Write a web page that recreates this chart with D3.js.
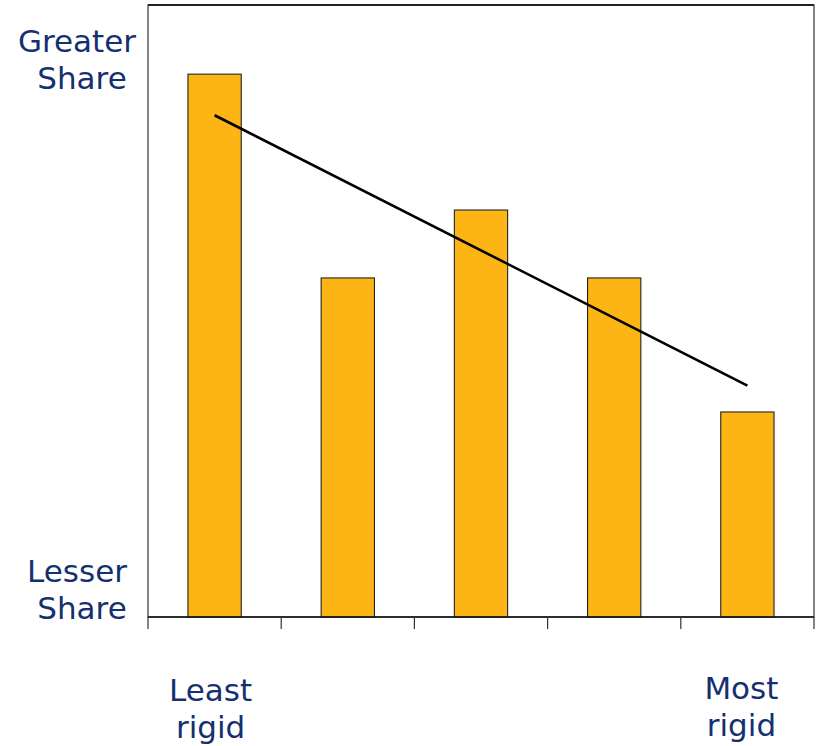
<!DOCTYPE html>
<html>
<head>
<meta charset="utf-8">
<script src="https://cdn.jsdelivr.net/npm/d3@7"></script>
<style>
  body { margin: 0; background: #fff; }
  text { font-family: "DejaVu Sans", Verdana, sans-serif; fill: #15306f; }
</style>
</head>
<body>
<script>
const width = 817,
      height = 746;

const margin = { top: 5, right: 3, bottom: 129, left: 148 };

// rigidity groups, least to most
const categories = ["g1", "g2", "g3", "g4", "g5"];
const shares = [88.7, 55.4, 66.5, 55.4, 33.5];
const yLabelsTop = ["Greater", "Share"];
const yLabelsBottom = ["Lesser", "Share"];
const xLabelsLeft = ["Least", "rigid"];
const xLabelsRight = ["Most", "rigid"];

const x = d3.scaleBand()
      .domain(categories)
      .range([margin.left, width - margin.right])
      .paddingInner(0.6)
      .paddingOuter(0.3);

const y = d3.scaleLinear()
      .domain([0, 100])
      .range([height - margin.bottom, margin.top]);

const svg = d3.select("body")
  .append("svg")
  .attr("width", width)
  .attr("height", height);

// plot frame
svg.append("rect")
  .attr("x", margin.left)
  .attr("y", margin.top)
  .attr("width", width - margin.left - margin.right)
  .attr("height", height - margin.top - margin.bottom)
  .style("fill", "none")
  .style("stroke", "#333")
  .style("stroke-width", 1.2);

svg.append("line")
  .attr("x1", margin.left)
  .attr("x2", width - margin.right)
  .attr("y1", margin.top)
  .attr("y2", margin.top)
  .style("stroke", "#222")
  .style("stroke-width", 2);

// bars
svg.append("g")
  .selectAll("rect")
  .data(shares)
  .join("rect")
  .attr("x", (d, i) => x(categories[i]))
  .attr("y", (d) => y(d))
  .attr("width", x.bandwidth())
  .attr("height", (d) => y(0) - y(d))
  .style("fill", "#fdb515")
  .style("stroke", "#222")
  .style("stroke-width", 1.1);

// x axis line + ticks between the groups
const tickPos = d3.range(categories.length + 1)
  .map((i) => margin.left + i * (width - margin.left - margin.right) / categories.length);

svg.append("line")
  .attr("x1", margin.left)
  .attr("x2", width - margin.right)
  .attr("y1", y(0))
  .attr("y2", y(0))
  .style("stroke", "#111")
  .style("stroke-width", 1.5);

svg.append("g")
  .selectAll("line")
  .data(tickPos)
  .join("line")
  .attr("x1", (d) => d)
  .attr("x2", (d) => d)
  .attr("y1", y(0))
  .attr("y2", y(0) + 12)
  .style("stroke", "#333")
  .style("stroke-width", 1.2);

// linear trend line (least squares over the bar values)
const xs = d3.range(shares.length);
const mx = d3.mean(xs), my = d3.mean(shares);
const slope = d3.sum(xs, (i) => (i - mx) * (shares[i] - my)) / d3.sum(xs, (i) => (i - mx) * (i - mx));
const icept = my - slope * mx;
const center = (i) => x(categories[i]) + x.bandwidth() / 2;

svg.append("path")
  .datum([0, shares.length - 1])
  .attr("d", d3.line()
    .x((i) => center(i))
    .y((i) => y(icept + slope * i)))
  .style("fill", "none")
  .style("stroke", "#000")
  .style("stroke-width", 2.6);

// labels
function block(lines, cx, baseline, offsets) {
  svg.append("text")
    .attr("text-anchor", "middle")
    .style("font-size", "31px")
    .selectAll("tspan")
    .data(lines)
    .join("tspan")
    .attr("x", (d, i) => cx + offsets[i])
    .attr("y", (d, i) => baseline + i * 37)
    .text((d) => d);
}

block(yLabelsTop, 77, 52, [0, 5]);
block(yLabelsBottom, 77, 582, [0, 5]);
block(xLabelsLeft, center(0) - 4, 701, [0, 0]);
block(xLabelsRight, center(categories.length - 1) - 6, 699, [0, 0]);
</script>
</body>
</html>
